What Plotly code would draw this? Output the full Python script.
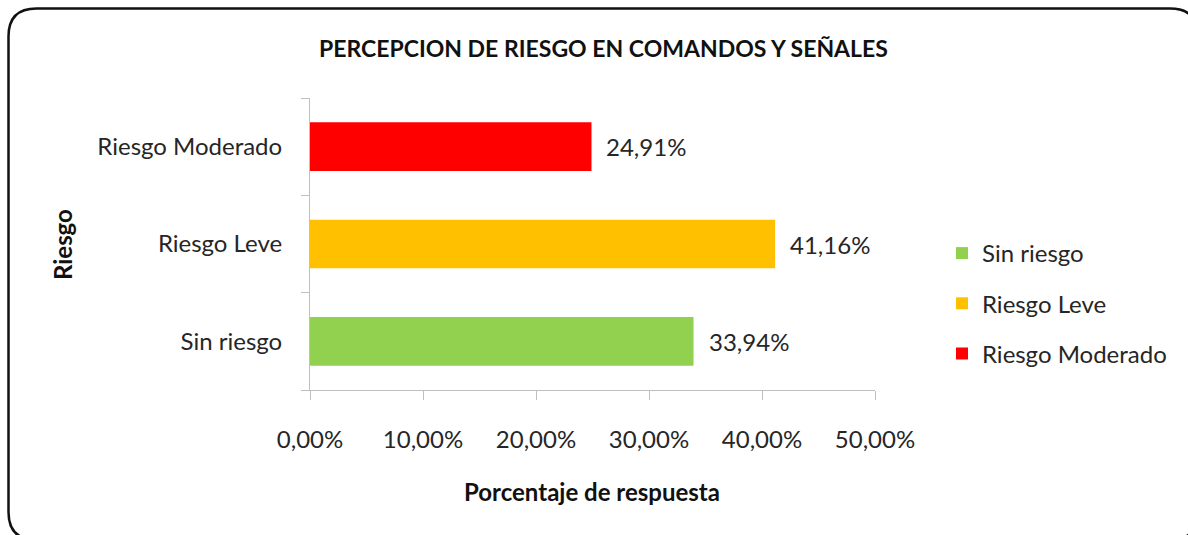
import plotly.graph_objects as go

categories = ["Sin riesgo", "Riesgo Leve", "Riesgo Moderado"]
values = [0.3394, 0.4116, 0.2491]
colors = ["#92D050", "#FFC000", "#FF0000"]
x_ticks = [0, 0.1, 0.2, 0.3, 0.4, 0.5]

W, H = 1188, 535
L, R, T, B = 310, 875, 98, 390  # plot area in px
FONT = "Lato"
TXT = "#262626"

fig = go.Figure()
for c, v, col in zip(categories, values, colors):
    fig.add_trace(go.Bar(
        y=[c], x=[v], orientation="h", name=c,
        marker=dict(color=col, line=dict(width=0)),
        width=0.5, legendgroup=c, hoverinfo="x+y",
    ))

def px_x(p):
    return (p - L) / (R - L)

def px_y(p):
    return (B - p) / (B - T)

# rounded border path in paper coordinates (runs past the right/bottom edge, as in the reference)
x0, x1, y0, y1, r = 8.5, 1198, 8.5, 540, 28
path = (
    f"M {px_x(x0 + r)},{px_y(y0)} L {px_x(x1 - r)},{px_y(y0)} "
    f"Q {px_x(x1)},{px_y(y0)} {px_x(x1)},{px_y(y0 + r)} "
    f"L {px_x(x1)},{px_y(y1 - r)} "
    f"Q {px_x(x1)},{px_y(y1)} {px_x(x1 - r)},{px_y(y1)} "
    f"L {px_x(x0 + r)},{px_y(y1)} "
    f"Q {px_x(x0)},{px_y(y1)} {px_x(x0)},{px_y(y1 - r)} "
    f"L {px_x(x0)},{px_y(y0 + r)} "
    f"Q {px_x(x0)},{px_y(y0)} {px_x(x0 + r)},{px_y(y0)} Z"
)

annotations = [
    dict(text="<b>PERCEPCION DE RIESGO EN COMANDOS Y SEÑALES</b>",
         xref="paper", yref="paper", x=px_x(603), y=px_y(48),
         xanchor="center", yanchor="middle", showarrow=False,
         font=dict(size=23, family=FONT, color="#111111")),
    dict(text="<b>Riesgo</b>", textangle=-90,
         xref="paper", yref="paper", x=px_x(62), y=px_y(245),
         xanchor="center", yanchor="middle", showarrow=False,
         font=dict(size=24, family=FONT, color="#111111")),
    dict(text="<b>Porcentaje de respuesta</b>",
         xref="paper", yref="paper", x=px_x(592), y=px_y(491),
         xanchor="center", yanchor="middle", showarrow=False,
         font=dict(size=24, family=FONT, color="#111111")),
]
# data labels placed through the axes
for c, v in zip(categories, values):
    annotations.append(dict(
        text=f"{v * 100:.2f}%".replace(".", ","),
        x=v, y=c, xref="x", yref="y", xanchor="left", yanchor="middle",
        xshift=13, showarrow=False,
        font=dict(size=24, family=FONT, color=TXT),
    ))

fig.update_layout(
    width=W, height=H,
    margin=dict(l=L, r=W - R, t=T, b=H - B, pad=0),
    paper_bgcolor="white", plot_bgcolor="white",
    separators=",.",
    barmode="overlay",
    font=dict(family=FONT, color=TXT, size=24),
    showlegend=True,
    legend=dict(
        x=px_x(942), y=px_y(231), xanchor="left", yanchor="top",
        font=dict(size=24, family=FONT, color=TXT),
        tracegroupgap=16, itemwidth=30,
    ),
    shapes=[dict(type="path", xref="paper", yref="paper", path=path,
                 line=dict(color="#111111", width=2.5), fillcolor="rgba(0,0,0,0)",
                 layer="below")],
    annotations=annotations,
)

fig.update_xaxes(
    range=[0, 0.5], tickvals=x_ticks, tickformat=".2%",
    showgrid=False, zeroline=False,
    showline=True, linecolor="#BFBFBF", linewidth=1,
    ticks="outside", ticklen=9, tickcolor="#BFBFBF",
    tickfont=dict(size=24, family=FONT, color=TXT),
    ticklabelstandoff=19,
)
fig.update_yaxes(
    type="category", categoryorder="array", categoryarray=categories,
    showgrid=False, zeroline=False,
    showline=True, linecolor="#BFBFBF", linewidth=1,
    ticks="outside", ticklen=8, tickcolor="#BFBFBF", tickson="boundaries",
    tickfont=dict(size=24, family=FONT, color=TXT),
    ticklabelstandoff=22,
)

fig.write_html("out.html", config={"displayModeBar": False},
               post_script="document.body.style.margin='0';")
